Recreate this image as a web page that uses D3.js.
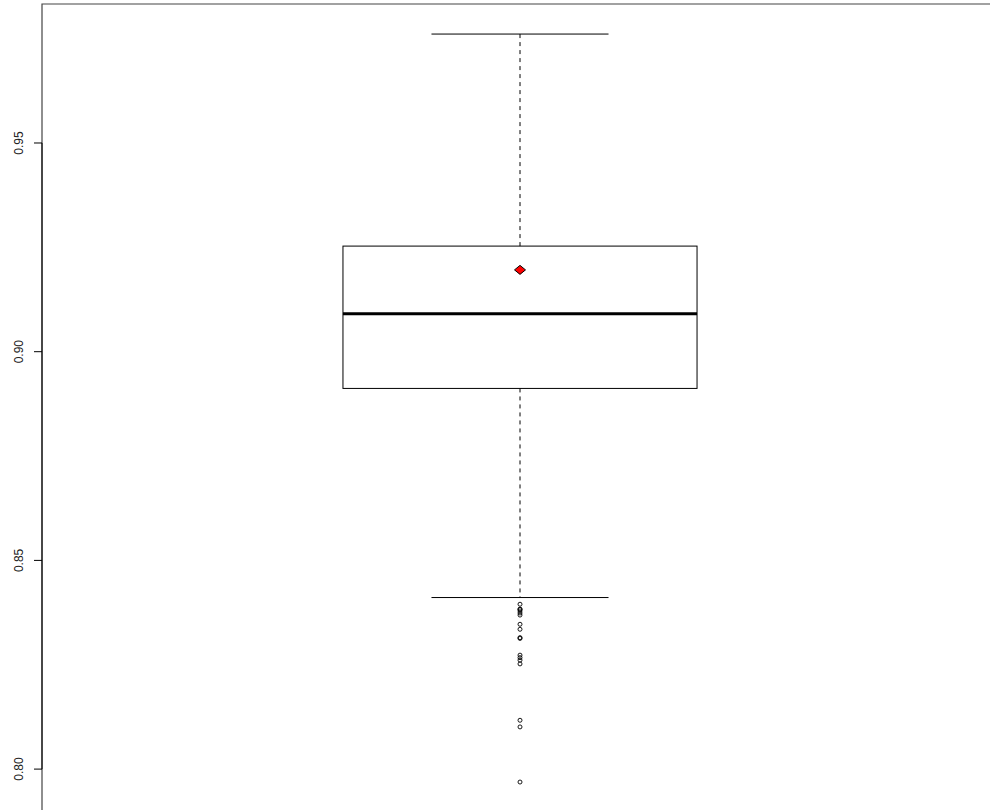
<!DOCTYPE html>
<html>
<head>
<meta charset="utf-8">
<script src="https://cdn.jsdelivr.net/npm/d3@7"></script>
<style>
  body { margin: 0; background: #fff; }
  svg { display: block; }
</style>
</head>
<body>
<div id="chart"></div>
<script>
// values
var groups = ["1"];
var whiskerLow = [0.8411];
var q1 = [0.8912];
var median = [0.9091];
var q3 = [0.9253];
var whiskerHigh = [0.9761];
var means = [0.9196];
var outliers = [0.8395, 0.8383, 0.8383, 0.8379, 0.8374, 0.8369, 0.8347, 0.8335,
                0.8315, 0.8313, 0.8273, 0.8267, 0.8261, 0.8252, 0.8117, 0.8101, 0.7969];
var yTicks = [0.80, 0.85, 0.90, 0.95];

function boxplot_func () {
    var W = 990, H = 810;
    var marginLeft = 42, marginTop = 4;

    var y = d3.scaleLinear().domain([0.7902, 0.9833]).range([H, marginTop]);
    var x = d3.scaleLinear().domain([0.46, 1.54]).range([marginLeft, 998]);

    var svg = d3.select("#chart").append("svg")
        .attr("width", W)
        .attr("height", H);

    // plot frame (bottom and right edge fall outside the picture)
    svg.append("path")
        .attr("d", "M" + marginLeft + "," + H + "V" + marginTop + "H" + W)
        .attr("fill", "none")
        .attr("stroke", "#444")
        .attr("stroke-width", 1.2);

    // y axis like R: line from first to last tick
    var axis = svg.append("g").attr("transform", "translate(" + marginLeft + ",0)");
    axis.append("line")
        .attr("y1", y(yTicks[0])).attr("y2", y(yTicks[yTicks.length - 1]))
        .attr("stroke", "#000");
    var tk = axis.selectAll("g.tick").data(yTicks).enter().append("g")
        .attr("class", "tick")
        .attr("transform", function(d) { return "translate(0," + y(d) + ")"; });
    tk.append("line").attr("x1", -8).attr("x2", 0).attr("stroke", "#000");
    tk.append("text")
        .attr("transform", "translate(-19,0) rotate(-90)")
        .attr("text-anchor", "middle")
        .style("font-family", "'Liberation Sans Narrow', 'Liberation Sans', sans-serif")
        .style("font-size", "12px")
        .attr("fill", "#222")
        .text(function(d) { return d3.format(".2f")(d); });

    var boxW = 0.4, capW = 0.2;

    groups.forEach(function(g, i) {
        var cx = i + 1;
        var b = svg.append("g");

        // dashed whiskers
        b.append("line")
            .attr("x1", x(cx)).attr("x2", x(cx))
            .attr("y1", y(q3[i])).attr("y2", y(whiskerHigh[i]))
            .attr("stroke", "#000").attr("stroke-dasharray", "4,4");
        b.append("line")
            .attr("x1", x(cx)).attr("x2", x(cx))
            .attr("y1", y(q1[i])).attr("y2", y(whiskerLow[i]))
            .attr("stroke", "#000").attr("stroke-dasharray", "4,4");

        // caps
        [whiskerHigh[i], whiskerLow[i]].forEach(function(v) {
            b.append("line")
                .attr("x1", x(cx - capW / 2)).attr("x2", x(cx + capW / 2))
                .attr("y1", y(v)).attr("y2", y(v))
                .attr("stroke", "#000");
        });

        // box
        b.append("rect")
            .attr("x", x(cx - boxW / 2))
            .attr("y", y(q3[i]))
            .attr("width", x(cx + boxW / 2) - x(cx - boxW / 2))
            .attr("height", y(q1[i]) - y(q3[i]))
            .attr("fill", "none")
            .attr("stroke", "#000");

        // median
        b.append("line")
            .attr("x1", x(cx - boxW / 2)).attr("x2", x(cx + boxW / 2))
            .attr("y1", y(median[i])).attr("y2", y(median[i]))
            .attr("stroke", "#000").attr("stroke-width", 3);

        // outliers
        b.selectAll("circle").data(outliers).enter().append("circle")
            .attr("cx", x(cx))
            .attr("cy", function(d) { return y(d); })
            .attr("r", 2)
            .attr("fill", "none")
            .attr("stroke", "#000")
            .attr("stroke-width", 0.9);

        // mean marker (red diamond)
        var mx = x(cx), my = y(means[i]);
        b.append("path")
            .attr("d", d3.line()([[mx - 5.5, my], [mx, my - 4.5], [mx + 5.5, my], [mx, my + 4.5]]) + "Z")
            .attr("fill", "#ff0000")
            .attr("stroke", "#000")
            .attr("stroke-width", 1);
    });
}

boxplot_func ();
</script>
</body>
</html>
